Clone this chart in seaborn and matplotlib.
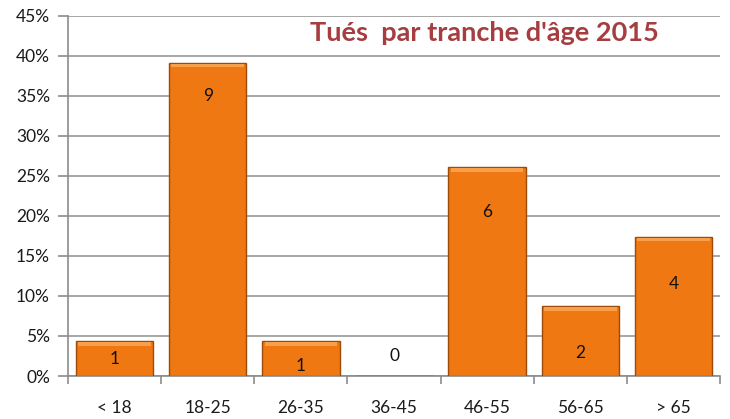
import matplotlib
matplotlib.use("Agg")
import matplotlib.pyplot as plt
import seaborn as sns
import pandas as pd
import numpy as np
from matplotlib.ticker import FuncFormatter

categories = ["< 18", "18-25", "26-35", "36-45", "46-55", "56-65", "> 65"]
counts = [1, 9, 1, 0, 6, 2, 4]
total = sum(counts)
shares = [c / total * 100 for c in counts]
label_y = [2.1, 35.0, 1.25, 2.5, 20.5, 2.9, 11.5]
yticks = list(range(0, 50, 5))

sns.set_theme(style="white")
plt.rcParams['font.family'] = ['Lato', 'DejaVu Sans']

fig = plt.figure(figsize=(7.3, 4.19), dpi=100)
ax = fig.add_axes([68/730, 1 - 376/419, (720 - 68)/730, (376 - 16)/419])

df = pd.DataFrame({"cat": categories, "share": shares})
sns.barplot(data=df, x="cat", y="share", ax=ax, color="#F07812", saturation=1,
            width=0.83, edgecolor="#9E4A0A", linewidth=1.0, zorder=3)

# highlight bevel on top of bars
for p in list(ax.patches):
    h = p.get_height()
    if h > 0:
        ax.add_patch(plt.Rectangle((p.get_x() + 0.025, h - 0.55), p.get_width() - 0.05, 0.45,
                                   facecolor="#F7A04A", edgecolor="none", zorder=4))

for i, (c, ly) in enumerate(zip(counts, label_y)):
    ax.text(i, ly, str(c), ha="center", va="center", fontsize=12.5, color="#111111", zorder=5)

ax.set_ylim(0, 45)
ax.set_xlim(-0.5, len(categories) - 0.5)
ax.set_yticks(yticks)
ax.yaxis.set_major_formatter(FuncFormatter(lambda v, _: f"{int(v)}%"))
ax.yaxis.grid(True, color="#999999", linewidth=1.2, zorder=0)
ax.set_axisbelow(True)
ax.set_xlabel("")
ax.set_ylabel("")

for s in ["top", "right"]:
    ax.spines[s].set_visible(False)
for s in ["left", "bottom"]:
    ax.spines[s].set_color("#8c8c8c")
    ax.spines[s].set_linewidth(1.2)

ax.tick_params(axis="y", which="major", left=True, length=7, width=1.2, color="#8c8c8c",
               labelsize=12.5, labelcolor="#1a1a1a", pad=6)
ax.set_xticks(range(len(categories)))
ax.set_xticklabels(categories)
ax.tick_params(axis="x", which="major", bottom=False, labelsize=12.5, labelcolor="#1a1a1a", pad=11)
ax.set_xticks(np.arange(-0.5, len(categories), 1), minor=True)
ax.tick_params(axis="x", which="minor", bottom=True, length=6, width=1.2, color="#8c8c8c")

fig.text(484/730, 1 - 33/419, "Tués  par tranche d'âge 2015", ha="center", va="center",
         fontsize=19.5, fontweight="bold", color="#A63D41")

fig.savefig("out.png", dpi=100)
